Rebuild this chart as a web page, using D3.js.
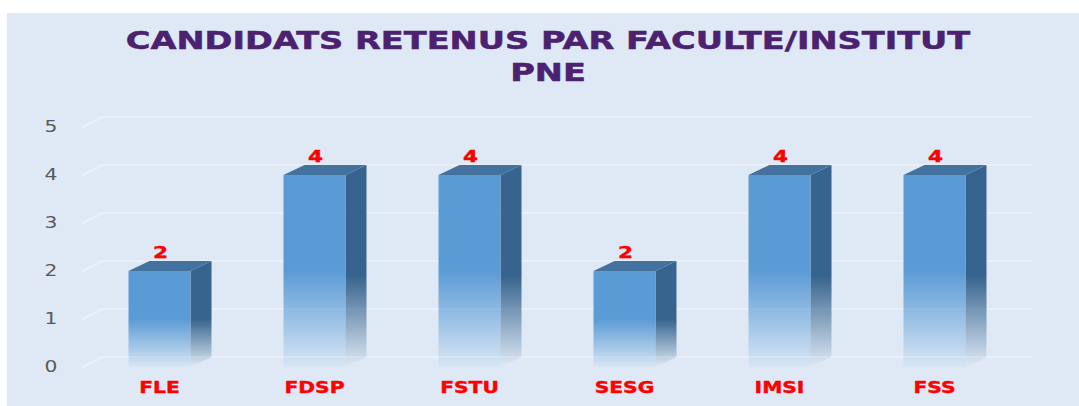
<!DOCTYPE html>
<html>
  <head>
    <title>Candidats retenus</title>
    <script src="https://cdn.jsdelivr.net/npm/d3@7"></script>
    <style>
      body { margin: 0; background: #fff; }
      .title { fill: #4b2170; stroke: #4b2170; stroke-width: 0.5px; font: bold 24px "DejaVu Sans", Verdana, sans-serif; }
      .ytick { fill: #595959; font: 15px "DejaVu Sans", sans-serif; }
      .cat { fill: #ff0000; stroke: #ff0000; stroke-width: 0.4px; font: bold 15px "DejaVu Sans", sans-serif; }
      .val { fill: #ff0000; stroke: #ff0000; stroke-width: 0.4px; font: bold 16px "DejaVu Sans", sans-serif; }
      .grid { fill: none; stroke: #eaf0f8; stroke-width: 2px; }
    </style>
  </head>
  <body>
    <div class="chart"></div>
    <script>
      // data
      var categories = ["FLE", "FDSP", "FSTU", "SESG", "IMSI", "FSS"];
      var values = [2, 4, 4, 2, 4, 4];
      var yTicks = [0, 1, 2, 3, 4, 5];
      var titleLines = ["CANDIDATS RETENUS PAR FACULTE/INSTITUT", "PNE"];

      var W = 1079, H = 406;
      var depth = { dx: 21, dy: -10 };
      var stretch = 1.35; // the original picture is stretched sideways

      var svg = d3.select(".chart").append("svg")
        .attr("width", W)
        .attr("height", H);

      var defs = svg.append("defs");
      var gFront = defs.append("linearGradient")
        .attr("id", "gFront").attr("x1", 0).attr("y1", 0).attr("x2", 0).attr("y2", 1);
      gFront.append("stop").attr("offset", 0).attr("stop-color", "#5b9bd5");
      gFront.append("stop").attr("offset", 0.5).attr("stop-color", "#5b9bd5");
      gFront.append("stop").attr("offset", 1).attr("stop-color", "#5b9bd5").attr("stop-opacity", 0.05);

      var gSide = defs.append("linearGradient")
        .attr("id", "gSide").attr("x1", 0).attr("y1", 0).attr("x2", 0).attr("y2", 1);
      gSide.append("stop").attr("offset", 0).attr("stop-color", "#37648e");
      gSide.append("stop").attr("offset", 0.55).attr("stop-color", "#37648e");
      gSide.append("stop").attr("offset", 1).attr("stop-color", "#37648e").attr("stop-opacity", 0);

      // panel background
      svg.append("rect")
        .attr("x", 7).attr("y", 13)
        .attr("width", W - 7).attr("height", H - 13)
        .attr("fill", "#dee9f5");

      function stretched(sel, cx, cy, sx) {
        sel.attr("text-anchor", "middle")
          .attr("transform", function(d, i) {
            return "translate(" + cx(d, i) + "," + cy(d, i) + ") scale(" + (sx || stretch) + ",1)";
          });
      }

      svg.append("g").selectAll("text")
        .data(titleLines)
        .enter().append("text")
        .attr("class", "title")
        .call(stretched, function() { return 548; }, function(d, i) { return 49 + i * 32; }, 1.4)
        .text(function(d) { return d; });

      var x = d3.scaleBand().domain(categories).range([82, 1012]);
      var y = d3.scaleLinear().domain([0, 5]).range([367, 127]);
      var barW = x.bandwidth() * 0.4;

      // gridlines (3D wall)
      svg.append("g").selectAll("path")
        .data(yTicks)
        .enter().append("path")
        .attr("class", "grid")
        .attr("d", function(d) {
          var y0 = y(d);
          return "M" + x.range()[0] + "," + y0 +
            "L" + (x.range()[0] + depth.dx) + "," + (y0 + depth.dy) +
            "L" + (x.range()[1] + depth.dx) + "," + (y0 + depth.dy);
        });

      svg.append("g").selectAll("text")
        .data(yTicks)
        .enter().append("text")
        .attr("class", "ytick")
        .attr("dy", "0.35em")
        .call(stretched, function() { return 51; }, function(d) { return y(d); })
        .text(function(d) { return d; });

      var bars = svg.append("g").selectAll("g")
        .data(categories)
        .enter().append("g");

      function bx(d) { return x(d) + (x.bandwidth() - barW) / 2; }
      function by(d, i) { return y(values[i]); }

      // side
      bars.append("path")
        .attr("fill", "url(#gSide)")
        .attr("d", function(d, i) {
          var x1 = bx(d) + barW, t = by(d, i), b = y(0);
          return "M" + x1 + "," + t + "L" + (x1 + depth.dx) + "," + (t + depth.dy) +
            "L" + (x1 + depth.dx) + "," + (b + depth.dy) + "L" + x1 + "," + b + "Z";
        });

      // top
      bars.append("path")
        .attr("fill", "#43729e")
        .attr("d", function(d, i) {
          var x0 = bx(d), t = by(d, i);
          return "M" + x0 + "," + t + "L" + (x0 + depth.dx) + "," + (t + depth.dy) +
            "L" + (x0 + barW + depth.dx) + "," + (t + depth.dy) + "L" + (x0 + barW) + "," + t + "Z";
        });

      // front
      bars.append("rect")
        .attr("fill", "url(#gFront)")
        .attr("x", bx)
        .attr("y", by)
        .attr("width", barW)
        .attr("height", function(d, i) { return y(0) - y(values[i]); });

      bars.append("text")
        .attr("class", "val")
        .call(stretched, function(d) { return x(d) + x.bandwidth() / 2 + 1; },
          function(d, i) { return by(d, i) - 13; })
        .text(function(d, i) { return values[i]; });

      bars.append("text")
        .attr("class", "cat")
        .call(stretched, function(d) { return x(d) + x.bandwidth() / 2; }, function() { return 393; })
        .text(function(d) { return d; });
    </script>
  </body>
</html>
